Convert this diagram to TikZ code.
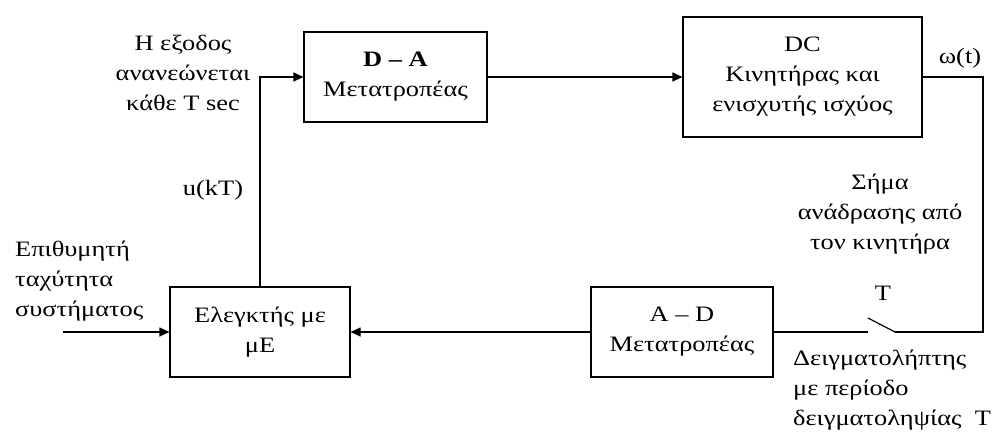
\documentclass[tikz,border=0pt]{standalone}
\usepackage{fontspec}
\setmainfont{Liberation Serif}[FakeStretch=1.2]
\usetikzlibrary{arrows.meta}
\begin{document}
\begin{tikzpicture}[x=1pt,y=-1pt,
  txt/.style={font=\fontsize{22}{30}\selectfont, inner sep=0pt},
  blk/.style={txt, draw, line width=1.2pt, align=center},
  lbl/.style={txt, align=center},
  wire/.style={line width=1.2pt},
  arr/.style={wire, -{Triangle[length=10pt,width=9pt]}}]
\useasboundingbox (0,0) rectangle (994,436);

% blocks of the loop
\node[blk, minimum width=180pt, minimum height=90pt] (ctrl) at (260,332) {Ελεγκτής με\\μΕ};
\node[blk, minimum width=183pt, minimum height=90pt] (da) at (395.5,77) {\textbf{D – A}\\Μετατροπέας};
\node[blk, minimum width=239pt, minimum height=120pt] (dc) at (802.5,77) {DC\\Κινητήρας και\\ενισχυτής ισχύος};
\node[blk, minimum width=182pt, minimum height=90pt] (ad) at (682,332) {A – D\\Μετατροπέας};

% free ends and the sampling switch
\coordinate (in) at (63,332);
\coordinate (corner) at (983,332);
\coordinate (swR) at (895,332);
\coordinate (swT) at (868,318);
\coordinate (swL) at (868,332);

% connectors
\draw[arr] (in) -- (ctrl.west);
\draw[arr] (ctrl.north) |- (da.west);
\draw[arr] (da.east) -- (dc.west);
\draw[wire] (dc.east) -| (corner) -- (swR);
\draw[wire] (swR) -- (swT);
\draw[wire] (ad.east) -- (swL);
\draw[arr] (ad.west) -- (ctrl.east);

% labels
\node[lbl] (upd) at (183,73) {Η εξοδος\\ανανεώνεται\\κάθε T sec};
\node[lbl] (ukt) at (213,190) {u(kT)};
\node[lbl, align=left, anchor=west] (ref) at (15,281) {Επιθυμητή\\ταχύτητα\\συστήματος};
\node[lbl] (w) at (960,58) {ω(t)};
\node[lbl] (fb) at (880,214) {Σήμα\\ανάδρασης από\\τον κινητήρα};
\node[lbl] (tsw) at (883,293) {T};
\node[lbl, align=left, anchor=west] (smp) at (793,390) {Δειγματολήπτης\\με περίοδο\\δειγματοληψίας~~T};
\end{tikzpicture}
\end{document}
